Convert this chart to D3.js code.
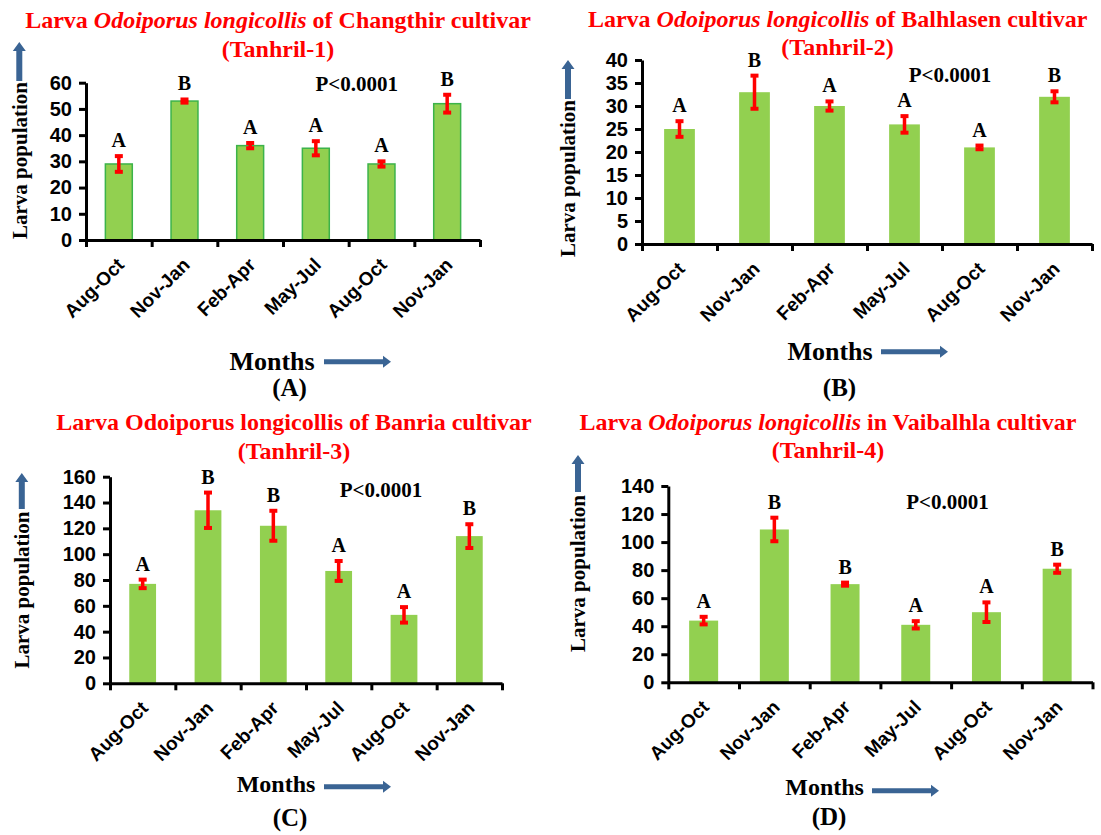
<!DOCTYPE html>
<html>
<head>
<meta charset="utf-8">
<script src="https://cdn.jsdelivr.net/npm/d3@7"></script>
<style>
    body { margin: 0; background: #fff; }
    svg { display: block; }
</style>
</head>
<body>
<svg id="chart" width="1101" height="835"></svg>
<script>
//categories (same six periods in every panel)
var months = ["Aug-Oct", "Nov-Jan", "Feb-Apr", "May-Jul", "Aug-Oct", "Nov-Jan"];

//panel A - Changthir (Tanhril-1)
var meanA = [29, 53, 36, 35, 29, 52];
var errA = [3, 0.6, 1, 2.7, 1, 3.4];
var lettersA = ["A", "B", "A", "A", "A", "B"];
var ticksA = [0, 10, 20, 30, 40, 50, 60];

//panel B - Balhlasen (Tanhril-2)
var meanB = [25, 33, 30, 26, 21, 32];
var errB = [1.7, 3.6, 1, 1.8, 0.4, 1.2];
var lettersB = ["A", "B", "A", "A", "A", "B"];
var ticksB = [0, 5, 10, 15, 20, 25, 30, 35, 40];

//panel C - Banria (Tanhril-3)
var meanC = [77, 134, 122, 87, 53, 114];
var errC = [3.3, 13.7, 11.6, 7.7, 6, 9.2];
var lettersC = ["A", "B", "B", "A", "A", "B"];
var ticksC = [0, 20, 40, 60, 80, 100, 120, 140, 160];

//panel D - Vaibalhla (Tanhril-4)
var meanD = [44, 109, 70, 41, 50, 81];
var errD = [2.7, 8.4, 1.1, 2.6, 7, 2.9];
var lettersD = ["A", "B", "B", "A", "A", "B"];
var ticksD = [0, 20, 40, 60, 80, 100, 120, 140];

var pText = "P<0.0001";

var serif = "'Liberation Serif', 'Times New Roman', serif",
    sans = "'Liberation Sans', Arial, sans-serif",
    red = "#ff0000",
    green = "#92d050",
    arrowBlue = "#3a6494";

var svg = d3.select("#chart");

//panels: data + layout
var panels = [
    {mean: meanA, err: errA, letters: lettersA, ticks: ticksA, outline: true,
     title: ["Larva ", "Odoiporus longicollis", " of Changthir cultivar"], sub: "(Tanhril-1)",
     x0: 86, x1: 480, y0: 240, yTop: 82.7,
     tx: 278, ty: 28, sy: 57,
     lx: 19.3, ly: 160.5, ax: 19.3, aTip: 42, aBase: 81,
     mx: 272, my: 370, mSize: 26, mArrow: [324, 391, 361.7],
     px: 356.7, py: 90.7, tag: "(A)", gx: 289.5, gy: 396},
    {mean: meanB, err: errB, letters: lettersB, ticks: ticksB, outline: false,
     title: ["Larva ", "Odoiporus longicollis", " of Balhlasen cultivar"], sub: "(Tanhril-2)",
     x0: 642, x1: 1092, y0: 244, yTop: 60,
     tx: 837.6, ty: 27, sy: 55,
     lx: 568, ly: 178.5, ax: 568, aTip: 60, aBase: 99,
     mx: 830, my: 360, mSize: 26, mArrow: [881, 948, 351.7],
     px: 950, py: 81.7, tag: "(B)", gx: 839.5, gy: 396},
    {mean: meanC, err: errC, letters: lettersC, ticks: ticksC, outline: false,
     title: ["Larva Odoiporus longicollis of Banria cultivar"], sub: "(Tanhril-3)",
     x0: 110, x1: 502, y0: 683.3, yTop: 476.7,
     tx: 294, ty: 430, sy: 459,
     lx: 21.8, ly: 590, ax: 21.8, aTip: 473, aBase: 509,
     mx: 276, my: 791.7, mSize: 24, mArrow: [324, 391, 786.7],
     px: 381, py: 497.3, tag: "(C)", gx: 290, gy: 826},
    {mean: meanD, err: errD, letters: lettersD, ticks: ticksD, outline: false,
     title: ["Larva ", "Odoiporus longicollis", " in Vaibalhla cultivar"], sub: "(Tanhril-4)",
     x0: 668.3, x1: 1092.5, y0: 682.3, yTop: 486,
     tx: 828, ty: 430, sy: 458,
     lx: 578, ly: 573.5, ax: 578, aTip: 455, aBase: 492,
     mx: 824.6, my: 795, mSize: 24, mArrow: [872, 939, 790.7],
     px: 947.5, py: 509.3, tag: "(D)", gx: 829, gy: 825}
];

//block arrow pointing up
function arrowUp(g, x, tip, base){
    var sw = 3, hw = 6.5, hl = 9;
    g.append("path")
        .attr("d", "M" + (x - sw) + "," + base + "L" + (x - sw) + "," + (tip + hl) +
            "L" + (x - hw) + "," + (tip + hl) + "L" + x + "," + tip +
            "L" + (x + hw) + "," + (tip + hl) + "L" + (x + sw) + "," + (tip + hl) +
            "L" + (x + sw) + "," + base + "Z")
        .attr("fill", arrowBlue);
}

//block arrow pointing right
function arrowRight(g, x1, x2, y){
    var sw = 2.5, hw = 6, hl = 8;
    g.append("path")
        .attr("d", "M" + x1 + "," + (y - sw) + "L" + (x2 - hl) + "," + (y - sw) +
            "L" + (x2 - hl) + "," + (y - hw) + "L" + x2 + "," + y +
            "L" + (x2 - hl) + "," + (y + hw) + "L" + (x2 - hl) + "," + (y + sw) +
            "L" + x1 + "," + (y + sw) + "Z")
        .attr("fill", arrowBlue);
}

function drawPanel(p){
    var g = svg.append("g");
    var n = months.length;
    var ymax = p.ticks[p.ticks.length - 1];

    var y = d3.scaleLinear().domain([0, ymax]).range([p.y0, p.yTop]);
    var x = d3.scaleBand().domain(d3.range(n)).range([p.x0, p.x1]);
    var edge = d3.scaleLinear().domain([0, n]).range([p.x0, p.x1]);
    var bw = x.bandwidth() * 0.41;

    //title, red, with italic species name where the source has it
    var t = g.append("text")
        .attr("x", p.tx).attr("y", p.ty)
        .attr("text-anchor", "middle")
        .style("font-family", serif).style("font-weight", "bold")
        .style("font-size", "24px").attr("fill", red);
    p.title.forEach(function(part, i){
        t.append("tspan").text(part)
            .style("font-style", (p.title.length == 3 && i == 1) ? "italic" : "normal");
    });
    g.append("text")
        .attr("x", p.tx).attr("y", p.sy)
        .attr("text-anchor", "middle")
        .style("font-family", serif).style("font-weight", "bold")
        .style("font-size", "24px").attr("fill", red)
        .text(p.sub);

    //bars
    g.selectAll(".bar")
        .data(p.mean)
        .enter().append("rect")
        .attr("x", function(d, i){ return x(i) + (x.bandwidth() - bw) / 2; })
        .attr("y", function(d){ return y(d); })
        .attr("width", bw)
        .attr("height", function(d){ return p.y0 - y(d); })
        .attr("fill", green)
        .attr("stroke", p.outline ? "#3cb34a" : "none")
        .attr("stroke-width", 1.5);

    //error bars
    var eb = g.selectAll(".err")
        .data(p.mean)
        .enter().append("g")
        .attr("transform", function(d, i){ return "translate(" + (x(i) + x.bandwidth() / 2) + ",0)"; });
    eb.append("line")
        .attr("y1", function(d, i){ return y(d - p.err[i]); })
        .attr("y2", function(d, i){ return y(d + p.err[i]); })
        .attr("stroke", red).attr("stroke-width", 3.5);
    [-1, 1].forEach(function(s){
        eb.append("line")
            .attr("x1", -4).attr("x2", 4)
            .attr("y1", function(d, i){ return y(d + s * p.err[i]); })
            .attr("y2", function(d, i){ return y(d + s * p.err[i]); })
            .attr("stroke", red).attr("stroke-width", 4);
    });

    //significance letters
    g.selectAll(".letter")
        .data(p.letters)
        .enter().append("text")
        .attr("x", function(d, i){ return x(i) + x.bandwidth() / 2; })
        .attr("y", function(d, i){ return y(p.mean[i] + p.err[i]) - 9; })
        .attr("text-anchor", "middle")
        .style("font-family", serif).style("font-weight", "bold").style("font-size", "20px")
        .text(function(d){ return d; });

    //P value
    g.append("text")
        .attr("x", p.px).attr("y", p.py)
        .attr("text-anchor", "middle")
        .style("font-family", serif).style("font-weight", "bold").style("font-size", "21px")
        .text(pText);

    //y axis
    var ya = g.append("g")
        .attr("transform", "translate(" + p.x0 + ",0)")
        .call(d3.axisLeft(y).tickValues(p.ticks).tickSize(7).tickSizeOuter(0).tickPadding(7));
    ya.selectAll("path, line").attr("stroke", "#000").attr("stroke-width", 3);
    ya.selectAll("text").style("font-family", sans).style("font-weight", "bold")
        .style("font-size", "20px").attr("fill", "#000");

    //x axis line with boundary ticks
    var xa = g.append("g")
        .attr("transform", "translate(0," + p.y0 + ")")
        .call(d3.axisBottom(edge).tickValues(d3.range(n + 1)).tickSize(7).tickSizeOuter(0).tickFormat(""));
    xa.selectAll("path, line").attr("stroke", "#000").attr("stroke-width", 3);

    //rotated month labels
    var xl = g.append("g")
        .attr("transform", "translate(0," + p.y0 + ")")
        .call(d3.axisBottom(x).tickSize(0).tickFormat(function(i){ return months[i]; }));
    xl.select(".domain").remove();
    xl.selectAll("text")
        .attr("x", 0).attr("y", 0).attr("dy", 0)
        .attr("transform", "translate(6.5,26) rotate(-45)")
        .attr("text-anchor", "end")
        .style("font-family", sans).style("font-weight", "bold")
        .style("font-size", "19px").attr("fill", "#000");

    //y label + arrow
    g.append("text")
        .attr("transform", "translate(" + p.lx + "," + p.ly + ") rotate(-90)")
        .attr("dy", "0.35em")
        .attr("text-anchor", "middle")
        .style("font-family", serif).style("font-weight", "bold").style("font-size", "21px")
        .text("Larva population");
    arrowUp(g, p.ax, p.aTip, p.aBase);

    //x label + arrow
    g.append("text")
        .attr("x", p.mx).attr("y", p.my)
        .attr("text-anchor", "middle")
        .style("font-family", serif).style("font-weight", "bold").style("font-size", p.mSize + "px")
        .text("Months");
    arrowRight(g, p.mArrow[0], p.mArrow[1], p.mArrow[2]);

    //panel tag
    g.append("text")
        .attr("x", p.gx).attr("y", p.gy)
        .attr("text-anchor", "middle")
        .style("font-family", serif).style("font-weight", "bold").style("font-size", "25px")
        .text(p.tag);
}

panels.forEach(drawPanel);
</script>
</body>
</html>
